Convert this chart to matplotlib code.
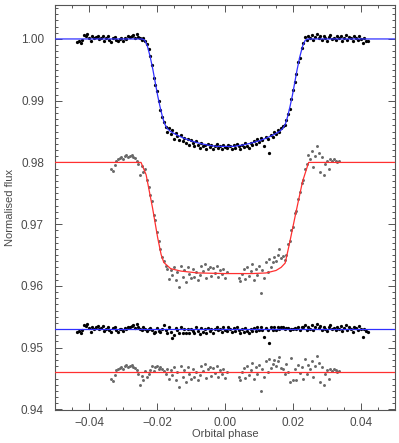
import matplotlib
matplotlib.use("Agg")
import matplotlib.pyplot as plt
from matplotlib.ticker import MultipleLocator

plt.rcParams['font.family'] = ['Liberation Sans', 'DejaVu Sans']

# ---- data ----
# black light curve (blue model), phases every 0.0005
phase_k = [
    -0.0435, -0.0430, -0.0425, -0.0420, -0.0415, -0.0410, -0.0405, -0.0400, -0.0395, -0.0390,
    -0.0385, -0.0380, -0.0375, -0.0370, -0.0365, -0.0360, -0.0355, -0.0350, -0.0345, -0.0340,
    -0.0335, -0.0330, -0.0325, -0.0320, -0.0315, -0.0310, -0.0305, -0.0300, -0.0295, -0.0290,
    -0.0285, -0.0280, -0.0275, -0.0270, -0.0265, -0.0260, -0.0255, -0.0250, -0.0245,
    -0.0240, -0.0235, -0.0230, -0.0225, -0.0220, -0.0215, -0.0210, -0.0205, -0.0200, -0.0195,
    -0.0190, -0.0185, -0.0180,
    -0.0175, -0.0170, -0.0165, -0.0160, -0.0155, -0.0150, -0.0145, -0.0140, -0.0135, -0.0130,
    -0.0125, -0.0120, -0.0115, -0.0110, -0.0105, -0.0100, -0.0095, -0.0090, -0.0085, -0.0080,
    -0.0075, -0.0070, -0.0065, -0.0060, -0.0055, -0.0050, -0.0045, -0.0040, -0.0035, -0.0030,
    -0.0025, -0.0020, -0.0015, -0.0010, -0.0005, 0.0000, 0.0005, 0.0010, 0.0015, 0.0020,
    0.0025, 0.0030, 0.0035, 0.0040, 0.0045, 0.0050, 0.0055, 0.0060, 0.0065, 0.0070,
    0.0075, 0.0080, 0.0085, 0.0090, 0.0095, 0.0100, 0.0105, 0.0110, 0.0115, 0.0120,
    0.0125, 0.0130, 0.0135, 0.0140, 0.0145, 0.0150, 0.0155, 0.0160, 0.0165, 0.0170,
    0.0175, 0.0180, 0.0185, 0.0190, 0.0195, 0.0200, 0.0205, 0.0210, 0.0215, 0.0220,
    0.0225, 0.0230, 0.0235, 0.0240,
    0.0245, 0.0250, 0.0255, 0.0260, 0.0265, 0.0270, 0.0275, 0.0280, 0.0285, 0.0290,
    0.0295, 0.0300, 0.0305, 0.0310, 0.0315, 0.0320, 0.0325, 0.0330, 0.0335, 0.0340,
    0.0345, 0.0350, 0.0355, 0.0360, 0.0365, 0.0370, 0.0375, 0.0380, 0.0385, 0.0390,
    0.0395, 0.0400, 0.0405, 0.0410, 0.0415, 0.0420,
]
flux_k = [
    0.9995, 0.9997, 0.9994, 0.9998, 1.0007, 1.0005, 1.0008, 1.0002, 0.9996, 1.0004,
    1.0001, 1.0003, 1.0005, 1.0000, 1.0002, 1.0005, 0.9997, 1.0001, 1.0004, 0.9999,
    0.9995, 1.0002, 1.0003, 0.9998, 0.9996, 1.0000, 1.0001, 0.9997, 1.0002, 1.0000,
    1.0004, 1.0003, 1.0005, 1.0006, 1.0002, 1.0008, 1.0003, 1.0001, 0.9998,
    1.0002, 0.9997, 0.9992, 0.9984, 0.9973, 0.9958, 0.9937, 0.9925, 0.9916, 0.9900,
    0.9885, 0.9874, 0.9866,
    0.9858, 0.9849, 0.9855, 0.9846, 0.9852, 0.9838, 0.9847, 0.9843, 0.9836, 0.9845,
    0.9834, 0.9840, 0.9831, 0.9838, 0.9829, 0.9836, 0.9831, 0.9827, 0.9835, 0.9829,
    0.9823, 0.9832, 0.9826, 0.9829, 0.9822, 0.9830, 0.9825, 0.9828, 0.9821, 0.9827,
    0.9830, 0.9824, 0.9827, 0.9822, 0.9829, 0.9825, 0.9823, 0.9829, 0.9826, 0.9821,
    0.9828, 0.9824, 0.9830, 0.9826, 0.9822, 0.9829, 0.9825, 0.9831, 0.9827, 0.9824,
    0.9832, 0.9829, 0.9835, 0.9830, 0.9838, 0.9833, 0.9840, 0.9836, 0.9826, 0.9841,
    0.9838, 0.9816, 0.9845, 0.9842, 0.9849, 0.9846, 0.9852, 0.9850, 0.9856, 0.9859,
    0.9860, 0.9868, 0.9878, 0.9887, 0.9903, 0.9917, 0.9931, 0.9944, 0.9962, 0.9969,
    0.9985, 0.9994, 1.0003, 0.9998,
    1.0004, 1.0001, 1.0006, 0.9998, 1.0003, 1.0008, 1.0002, 1.0005, 0.9999, 1.0004,
    1.0001, 0.9997, 1.0003, 1.0006, 1.0000, 1.0002, 0.9998, 1.0004, 1.0001, 1.0005,
    0.9997, 1.0002, 1.0006, 0.9999, 1.0003, 1.0001, 0.9996, 1.0004, 1.0002, 0.9998,
    1.0005, 1.0000, 0.9993, 1.0001, 0.9997, 0.9996,
]
resid_k = [
    0.9525, 0.9527, 0.9524, 0.9528, 0.9537, 0.9535, 0.9538, 0.9532, 0.9526, 0.9534,
    0.9531, 0.9533, 0.9535, 0.9530, 0.9532, 0.9535, 0.9527, 0.9531, 0.9534, 0.9529,
    0.9525, 0.9532, 0.9533, 0.9528, 0.9526, 0.9530, 0.9531, 0.9527, 0.9532, 0.9530,
    0.9534, 0.9533, 0.9535, 0.9536, 0.9532, 0.9538, 0.9533, 0.9531, 0.9528,
    0.9534, 0.9531, 0.9527, 0.9530, 0.9532, 0.9529, 0.9523, 0.9526, 0.9532, 0.9527,
    0.9525, 0.9530, 0.9536,
    0.9528, 0.9524, 0.9533, 0.9526, 0.9515, 0.9521, 0.9532, 0.9529, 0.9523, 0.9533,
    0.9524, 0.9531, 0.9523, 0.9531, 0.9523, 0.9531, 0.9527, 0.9524, 0.9533, 0.9527,
    0.9522, 0.9532, 0.9526, 0.9530, 0.9523, 0.9532, 0.9527, 0.9531, 0.9524, 0.9530,
    0.9534, 0.9528, 0.9531, 0.9526, 0.9533, 0.9529, 0.9527, 0.9533, 0.9530, 0.9525,
    0.9532, 0.9527, 0.9533, 0.9529, 0.9524, 0.9531, 0.9526, 0.9532, 0.9527, 0.9524,
    0.9531, 0.9527, 0.9532, 0.9527, 0.9534, 0.9528, 0.9534, 0.9529, 0.9518, 0.9532,
    0.9528, 0.9507, 0.9533, 0.9528, 0.9534, 0.9529, 0.9534, 0.9530, 0.9534, 0.9534,
    0.9530, 0.9532, 0.9532, 0.9529, 0.9530, 0.9530, 0.9532, 0.9530, 0.9534, 0.9528,
    0.9533, 0.9533, 0.9536, 0.9529,
    0.9534, 0.9531, 0.9536, 0.9528, 0.9533, 0.9538, 0.9532, 0.9535, 0.9529, 0.9534,
    0.9531, 0.9527, 0.9533, 0.9536, 0.9530, 0.9532, 0.9528, 0.9534, 0.9531, 0.9535,
    0.9527, 0.9532, 0.9536, 0.9529, 0.9533, 0.9531, 0.9526, 0.9534, 0.9532, 0.9528,
    0.9535, 0.9530, 0.9517, 0.9531, 0.9527, 0.9526,
]

# grey light curve (red model), shifted by -0.02 in the figure
phase_g = [
    -0.0335, -0.0330, -0.0325, -0.0320, -0.0315, -0.0310, -0.0305, -0.0300, -0.0295, -0.0290,
    -0.0285, -0.0280, -0.0275, -0.0270, -0.0265, -0.0260, -0.0255, -0.0250,
    -0.0245, -0.0240, -0.0235, -0.0230, -0.0225, -0.0220, -0.0215, -0.0210, -0.0205, -0.0200,
    -0.0195, -0.0190, -0.0185, -0.0180, -0.0175,
    -0.0170, -0.0165, -0.0160, -0.0155, -0.0150, -0.0145, -0.0140, -0.0135, -0.0130, -0.0125,
    -0.0120, -0.0115, -0.0110, -0.0105, -0.0100, -0.0095, -0.0090, -0.0085, -0.0080, -0.0075,
    -0.0070, -0.0065, -0.0060, -0.0055, -0.0050, -0.0045, -0.0040, -0.0035, -0.0030, -0.0025,
    -0.0020, -0.0015, -0.0010, -0.0005, 0.0000, 0.0005,
    0.0040, 0.0045, 0.0050, 0.0055, 0.0060, 0.0065, 0.0070, 0.0075, 0.0080, 0.0085,
    0.0090, 0.0095, 0.0100, 0.0105, 0.0110, 0.0115, 0.0120, 0.0125, 0.0130, 0.0135,
    0.0140, 0.0145, 0.0150, 0.0155, 0.0160, 0.0165, 0.0170, 0.0175,
    0.0180, 0.0185, 0.0190, 0.0195, 0.0200, 0.0205, 0.0210, 0.0215, 0.0220, 0.0225,
    0.0230, 0.0235, 0.0240,
    0.0245, 0.0250, 0.0255, 0.0260, 0.0265, 0.0270, 0.0275, 0.0280, 0.0285, 0.0290,
    0.0295, 0.0300, 0.0305, 0.0310, 0.0315, 0.0320, 0.0325, 0.0330, 0.0335,
]
flux_g = [
    0.9790, 0.9786, 0.9796, 0.9803, 0.9805, 0.9807, 0.9809, 0.9806, 0.9810, 0.9812,
    0.9808, 0.9811, 0.9812, 0.9809, 0.9807, 0.9803, 0.9797, 0.9780,
    0.9794, 0.9784, 0.9790, 0.9772, 0.9760, 0.9748, 0.9737, 0.9715, 0.9707, 0.9688,
    0.9672, 0.9659, 0.9647, 0.9640, 0.9632,
    0.9628, 0.9611, 0.9625, 0.9617, 0.9630, 0.9609, 0.9622, 0.9599, 0.9633, 0.9615,
    0.9626, 0.9606, 0.9631, 0.9619, 0.9612, 0.9627, 0.9614, 0.9623, 0.9609, 0.9618,
    0.9632, 0.9624, 0.9636, 0.9613, 0.9628, 0.9631, 0.9616, 0.9629, 0.9621, 0.9632,
    0.9614, 0.9625, 0.9619, 0.9627, 0.9613, 0.9623,
    0.9613, 0.9608, 0.9620, 0.9627, 0.9611, 0.9631, 0.9616, 0.9624, 0.9635, 0.9609,
    0.9628, 0.9617, 0.9632, 0.9589, 0.9626, 0.9613, 0.9639, 0.9622, 0.9644, 0.9630,
    0.9638, 0.9647, 0.9641, 0.9650, 0.9659, 0.9645, 0.9648, 0.9642,
    0.9650, 0.9668, 0.9672, 0.9690, 0.9695, 0.9718, 0.9722, 0.9741, 0.9752, 0.9766,
    0.9772, 0.9790, 0.9797,
    0.9812, 0.9806, 0.9818, 0.9793, 0.9811, 0.9826, 0.9815, 0.9785, 0.9809, 0.9779,
    0.9798, 0.9803, 0.9790, 0.9806, 0.9802, 0.9805, 0.9803, 0.9800, 0.9802,
]
resid_g = [
    0.9450, 0.9446, 0.9456, 0.9463, 0.9465, 0.9467, 0.9469, 0.9466, 0.9470, 0.9472,
    0.9468, 0.9471, 0.9472, 0.9469, 0.9467, 0.9463, 0.9457, 0.9440,
    0.9454, 0.9448, 0.9462, 0.9452, 0.9458, 0.9463, 0.9470, 0.9462, 0.9468, 0.9470,
    0.9465, 0.9468, 0.9465, 0.9462, 0.9457,
    0.9466, 0.9449, 0.9463, 0.9455, 0.9468, 0.9447, 0.9460, 0.9437, 0.9471, 0.9453,
    0.9464, 0.9444, 0.9469, 0.9457, 0.9450, 0.9465, 0.9452, 0.9461, 0.9447, 0.9456,
    0.9470, 0.9462, 0.9474, 0.9451, 0.9466, 0.9469, 0.9454, 0.9467, 0.9459, 0.9470,
    0.9452, 0.9463, 0.9457, 0.9465, 0.9451, 0.9461,
    0.9453, 0.9448, 0.9460, 0.9467, 0.9451, 0.9471, 0.9456, 0.9464, 0.9475, 0.9449,
    0.9468, 0.9457, 0.9472, 0.9429, 0.9466, 0.9453, 0.9478, 0.9461, 0.9482, 0.9467,
    0.9473, 0.9480, 0.9471, 0.9478, 0.9485, 0.9467, 0.9466, 0.9457,
    0.9473, 0.9461, 0.9445, 0.9483, 0.9448, 0.9466, 0.9447, 0.9472, 0.9459, 0.9468,
    0.9449, 0.9482, 0.9457,
    0.9472, 0.9466, 0.9478, 0.9453, 0.9471, 0.9486, 0.9475, 0.9445, 0.9469, 0.9439,
    0.9458, 0.9463, 0.9450, 0.9466, 0.9462, 0.9465, 0.9463, 0.9460, 0.9462,
]

# model curves
model_k_phase = [-0.0500, -0.0244, -0.0236, -0.0228, -0.0220, -0.0212, -0.0205, -0.0198,
                 -0.0191, -0.0184, -0.0178, -0.0170, -0.0160, -0.0140, -0.0120, -0.0100,
                 -0.0075, -0.0050, -0.0025, 0.0000, 0.0025, 0.0050, 0.0075, 0.0100,
                 0.0120, 0.0140, 0.0160, 0.0170, 0.0178, 0.0184, 0.0191, 0.0198,
                 0.0205, 0.0212, 0.0220, 0.0228, 0.0236, 0.0244, 0.0500]
model_k_flux = [1.0000, 1.0000, 0.9998, 0.9988, 0.9971, 0.9950, 0.9929, 0.9908,
                0.9890, 0.9874, 0.9863, 0.9855, 0.9850, 0.9844, 0.9839, 0.9835,
                0.9831, 0.9828, 0.9826, 0.9826, 0.9826, 0.9828, 0.9831, 0.9835,
                0.9839, 0.9844, 0.9850, 0.9855, 0.9863, 0.9874, 0.9890, 0.9908,
                0.9929, 0.9950, 0.9971, 0.9988, 0.9998, 1.0000, 1.0000]
model_g_phase = [-0.0500, -0.0247, -0.0232, -0.0213, -0.0198, -0.0188, -0.0180, -0.0174,
                 -0.0160, -0.0130, -0.0080, 0.0000, 0.0080, 0.0121, 0.0150, 0.0165,
                 0.0177, 0.0189, 0.0209, 0.0228, 0.0246, 0.0500]
model_g_flux = [0.9800, 0.9800, 0.9780, 0.9726, 0.9678, 0.9651, 0.9638, 0.9635,
                0.9628, 0.9624, 0.9621, 0.9620, 0.9620, 0.9621, 0.9625, 0.9630,
                0.9637, 0.9667, 0.9720, 0.9769, 0.9800, 0.9800]
resid_k_level = 0.953
resid_g_level = 0.946

fig = plt.figure(figsize=(3.99, 4.43), dpi=100)
ax = fig.add_axes([55 / 399, 33 / 443, 340 / 399, 405 / 443])

grey = '#686868'
ax.scatter(phase_k, flux_k, s=5.5, color='black', linewidths=0, zorder=2)
ax.scatter(phase_k, resid_k, s=5.5, color='black', linewidths=0, zorder=2)
ax.scatter(phase_g, flux_g, s=4.5, color=grey, linewidths=0, zorder=2)
ax.scatter(phase_g, resid_g, s=4.5, color=grey, linewidths=0, zorder=2)

ax.plot(model_k_phase, model_k_flux, color='#3030ff', lw=0.9, zorder=3)
ax.plot(model_g_phase, model_g_flux, color='#ff3030', lw=0.9, zorder=3)
ax.axhline(resid_k_level, color='#3030ff', lw=0.9, zorder=3)
ax.axhline(resid_g_level, color='#ff3030', lw=0.9, zorder=3)

ax.set_xlim(-0.05, 0.05)
ax.set_ylim(0.9399, 1.0055)
ax.xaxis.set_major_locator(MultipleLocator(0.02))
ax.xaxis.set_minor_locator(MultipleLocator(0.005))
ax.yaxis.set_major_locator(MultipleLocator(0.01))
ax.yaxis.set_minor_locator(MultipleLocator(0.001))


def fmt_phase(v, pos):
    if abs(v) < 1e-9:
        return '0.00'
    s = '%.2f' % abs(v)
    return ('\u2212' + s) if v < 0 else s


ax.xaxis.set_major_formatter(plt.FuncFormatter(fmt_phase))
ax.yaxis.set_major_formatter(plt.FormatStrFormatter('%.2f'))

txt = '#4a4a4a'
for s in ax.spines.values():
    s.set_color('#555555')
    s.set_linewidth(0.8)
ax.tick_params(which='both', direction='in', top=True, right=True, colors='#555555',
               labelcolor=txt, labelsize=8.5, width=0.7)
ax.tick_params(which='major', length=5)
ax.tick_params(which='minor', length=2.5)
ax.tick_params(axis='x', pad=5)
ax.tick_params(axis='y', pad=8)

ax.set_xlabel('Orbital phase', fontsize=8, color=txt, labelpad=0)
ax.set_ylabel('Normalised flux', fontsize=8, color=txt, labelpad=4)

fig.savefig('out.png', dpi=100)
